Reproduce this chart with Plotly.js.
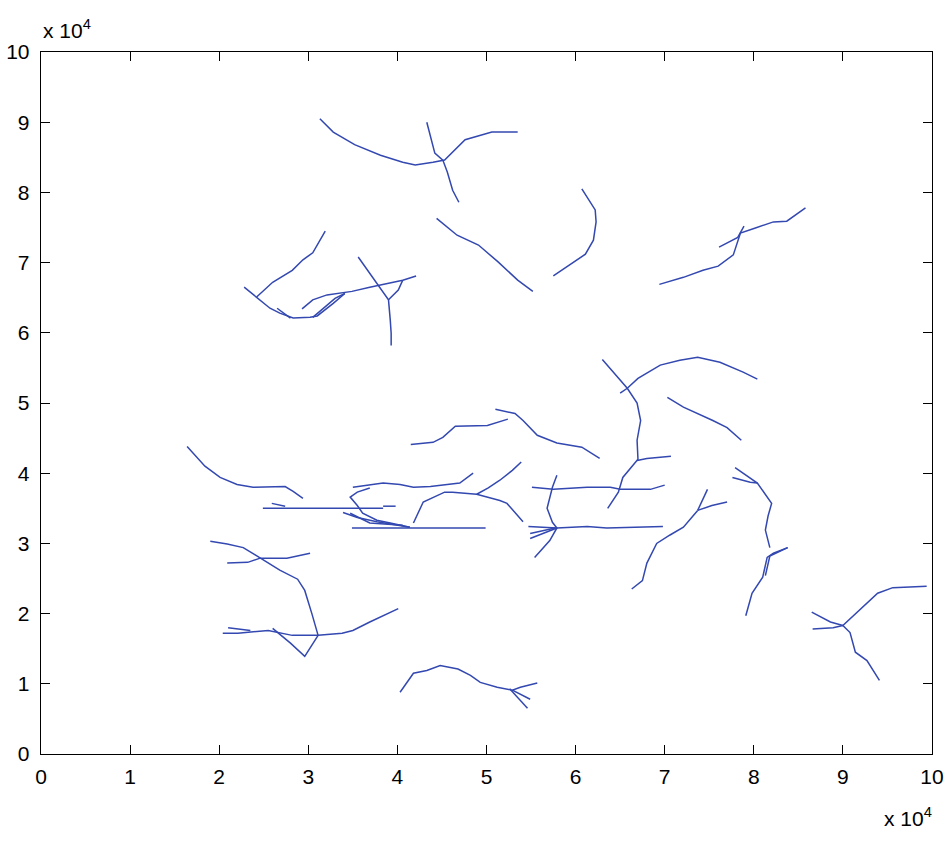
<!DOCTYPE html>
<html>
<head>
<meta charset="utf-8">
<script src="https://cdn.plot.ly/plotly-3.0.1.min.js"></script>
<style>
  html, body { margin: 0; padding: 0; background: #fff; }
  #plot { width: 950px; height: 842px; }
</style>
</head>
<body>
<div id="plot"></div>
<script>
// all coordinates in units of 1e4
const topArcX = [3.13, 3.28, 3.52, 3.81, 4.06, 4.20, 4.40, 4.53, 4.76, 5.06, 5.35];
const topArcY = [9.05, 8.86, 8.68, 8.53, 8.43, 8.39, 8.43, 8.46, 8.75, 8.86, 8.86];
const topCrossX = [4.33, 4.42, 4.51, 4.56, 4.62, 4.69];
const topCrossY = [9.00, 8.56, 8.46, 8.29, 8.03, 7.86];
const diagX = [4.44, 4.67, 4.91, 5.13, 5.35, 5.52];
const diagY = [7.63, 7.39, 7.25, 7.01, 6.75, 6.59];
const hookX = [6.07, 6.22, 6.23, 6.20, 6.11, 5.96, 5.75];
const hookY = [8.05, 7.75, 7.58, 7.32, 7.12, 6.99, 6.81];
const rightUpX = [6.94, 7.21, 7.43, 7.60, 7.77, 7.81, 7.85, 8.01, 8.22, 8.37, 8.58];
const rightUpY = [6.69, 6.79, 6.89, 6.95, 7.11, 7.28, 7.42, 7.49, 7.58, 7.59, 7.78];
const rightUp2X = [7.61, 7.82, 7.89];
const rightUp2Y = [7.22, 7.36, 7.52];

const leafAX = [2.28, 2.44, 2.57, 2.68, 2.83, 3.02, 3.10, 3.28, 3.41];
const leafAY = [6.65, 6.49, 6.35, 6.28, 6.21, 6.22, 6.24, 6.42, 6.56];
const leafBX = [2.42, 2.60, 2.82, 2.94, 3.05, 3.13, 3.19];
const leafBY = [6.51, 6.72, 6.89, 7.04, 7.14, 7.32, 7.45];
const leafCX = [2.93, 3.05, 3.21, 3.49, 3.69, 3.81, 4.06, 4.21];
const leafCY = [6.34, 6.47, 6.54, 6.59, 6.65, 6.68, 6.75, 6.81];
const leafDX = [2.65, 2.80];
const leafDY = [6.35, 6.21];
const leafEX = [3.05, 3.30, 3.41];
const leafEY = [6.22, 6.49, 6.56];
const leafFX = [3.56, 3.69, 3.78, 3.90, 3.92, 3.93, 3.93];
const leafFY = [7.08, 6.85, 6.68, 6.47, 6.18, 5.99, 5.82];
const leafGX = [3.90, 4.01, 4.06];
const leafGY = [6.47, 6.61, 6.75];

const midLeftX = [1.64, 1.73, 1.84, 2.01, 2.20, 2.38, 2.57, 2.74, 2.83, 2.94];
const midLeftY = [4.38, 4.26, 4.10, 3.94, 3.84, 3.80, 3.81, 3.81, 3.74, 3.64];
const flat1X = [2.49, 3.84];
const flat1Y = [3.50, 3.50];
const flat2X = [3.84, 3.98];
const flat2Y = [3.53, 3.53];
const flat3X = [2.59, 2.74];
const flat3Y = [3.57, 3.53];
const flat4X = [3.49, 4.99];
const flat4Y = [3.22, 3.22];
const waveX = [3.50, 3.84, 4.03, 4.18, 4.37, 4.70, 4.85];
const waveY = [3.80, 3.86, 3.84, 3.80, 3.81, 3.86, 4.00];
const loopAX = [3.69, 3.55, 3.47, 3.55, 3.61, 3.77, 3.92, 4.14];
const loopAY = [3.79, 3.73, 3.66, 3.54, 3.43, 3.33, 3.29, 3.23];
const loopBX = [3.39, 3.55, 3.77, 4.14];
const loopBY = [3.44, 3.37, 3.31, 3.23];
const loopCX = [3.47, 3.69, 4.06];
const loopCY = [3.43, 3.29, 3.26];
const humpX = [4.18, 4.29, 4.53, 4.62, 4.89, 5.15, 5.23, 5.32, 5.41];
const humpY = [3.29, 3.59, 3.73, 3.73, 3.70, 3.61, 3.57, 3.44, 3.31];
const humpBX = [4.89, 5.02, 5.15, 5.29, 5.39];
const humpBY = [3.70, 3.79, 3.90, 4.04, 4.16];
const midRiseX = [4.15, 4.40, 4.51, 4.65, 5.01, 5.24];
const midRiseY = [4.41, 4.44, 4.51, 4.67, 4.68, 4.77];
const midFallX = [5.10, 5.32, 5.41, 5.57, 5.79, 6.07, 6.27];
const midFallY = [4.91, 4.85, 4.75, 4.54, 4.43, 4.37, 4.21];

const trunkX = [6.30, 6.50, 6.58, 6.69, 6.73, 6.69, 6.70, 6.53, 6.48, 6.36];
const trunkY = [5.62, 5.33, 5.21, 5.00, 4.75, 4.47, 4.20, 3.94, 3.73, 3.50];
const domeX = [6.50, 6.58, 6.70, 6.95, 7.17, 7.37, 7.62, 7.88, 8.04];
const domeY = [5.14, 5.21, 5.35, 5.54, 5.61, 5.65, 5.58, 5.44, 5.34];
const twigX = [6.69, 6.80, 7.07];
const twigY = [4.18, 4.21, 4.24];
const slopeX = [7.03, 7.21, 7.54, 7.70, 7.86];
const slopeY = [5.08, 4.94, 4.75, 4.65, 4.47];
const flat5X = [5.51, 5.75, 6.13, 6.39, 6.50, 6.84, 7.00];
const flat5Y = [3.80, 3.77, 3.80, 3.80, 3.77, 3.77, 3.83];
const stemX = [5.79, 5.74, 5.68, 5.74, 5.79, 5.71, 5.54];
const stemY = [3.97, 3.80, 3.50, 3.30, 3.22, 3.04, 2.80];
const flat6X = [5.47, 5.79, 6.13, 6.35, 6.98];
const flat6Y = [3.24, 3.22, 3.24, 3.22, 3.24];
const fan1X = [5.49, 5.79];
const fan1Y = [3.07, 3.22];
const fan2X = [5.49, 5.77];
const fan2Y = [3.14, 3.22];
const forkX = [6.63, 6.75, 6.80, 6.91, 7.06, 7.21, 7.37];
const forkY = [2.35, 2.47, 2.72, 3.00, 3.12, 3.23, 3.47];
const forkBX = [7.37, 7.48];
const forkBY = [3.47, 3.77];
const forkCX = [7.37, 7.53, 7.70];
const forkCY = [3.47, 3.54, 3.59];

const rightSAX = [7.79, 8.04, 8.20, 8.16, 8.13, 8.18];
const rightSAY = [4.08, 3.86, 3.57, 3.39, 3.19, 2.94];
const rightSBX = [7.76, 7.96, 8.04];
const rightSBY = [3.94, 3.87, 3.86];
const rightSCX = [8.38, 8.22, 8.15, 8.10, 7.98, 7.91];
const rightSCY = [2.94, 2.86, 2.80, 2.52, 2.29, 1.97];
const rightSDX = [8.38, 8.18, 8.13];
const rightSDY = [2.94, 2.82, 2.54];
const farRightX = [9.94, 9.56, 9.39, 9.16, 9.00, 9.08, 9.14, 9.27, 9.41];
const farRightY = [2.39, 2.37, 2.29, 2.02, 1.83, 1.73, 1.45, 1.33, 1.05];
const farRightBX = [8.65, 8.86, 9.00];
const farRightBY = [2.02, 1.88, 1.83];
const farRightCX = [8.66, 8.89, 9.00];
const farRightCY = [1.78, 1.80, 1.83];

const lowLeftX = [1.90, 2.09, 2.27, 2.46, 2.68, 2.88, 2.96, 3.04, 3.11];
const lowLeftY = [3.03, 2.99, 2.94, 2.79, 2.62, 2.49, 2.33, 2.00, 1.69];
const lowVX = [3.11, 2.96, 2.80, 2.60];
const lowVY = [1.69, 1.39, 1.58, 1.79];
const lowCrossX = [2.09, 2.32, 2.46, 2.76, 3.02];
const lowCrossY = [2.72, 2.73, 2.79, 2.79, 2.86];
const lowFlatX = [2.04, 2.21, 2.55, 2.82, 3.11, 3.38, 3.50, 3.69, 4.01];
const lowFlatY = [1.72, 1.72, 1.76, 1.69, 1.69, 1.72, 1.76, 1.88, 2.07];
const lowStubX = [2.10, 2.27, 2.35];
const lowStubY = [1.80, 1.78, 1.76];

const bottomX = [4.03, 4.18, 4.33, 4.48, 4.68, 4.82, 4.93, 5.12, 5.29, 5.38, 5.57];
const bottomY = [0.88, 1.15, 1.19, 1.26, 1.21, 1.12, 1.02, 0.95, 0.91, 0.95, 1.01];
const bottomBX = [5.29, 5.49];
const bottomBY = [0.91, 0.78];
const bottomCX = [5.26, 5.46];
const bottomCY = [0.93, 0.65];

const lines = [
  [topArcX, topArcY], [topCrossX, topCrossY], [diagX, diagY], [hookX, hookY],
  [rightUpX, rightUpY], [rightUp2X, rightUp2Y],
  [leafAX, leafAY], [leafBX, leafBY], [leafCX, leafCY], [leafDX, leafDY],
  [leafEX, leafEY], [leafFX, leafFY], [leafGX, leafGY],
  [midLeftX, midLeftY], [flat1X, flat1Y], [flat2X, flat2Y], [flat3X, flat3Y],
  [flat4X, flat4Y], [waveX, waveY], [loopAX, loopAY], [loopBX, loopBY],
  [loopCX, loopCY], [humpX, humpY], [humpBX, humpBY], [midRiseX, midRiseY],
  [midFallX, midFallY],
  [trunkX, trunkY], [domeX, domeY], [twigX, twigY], [slopeX, slopeY],
  [flat5X, flat5Y], [stemX, stemY], [flat6X, flat6Y], [fan1X, fan1Y],
  [fan2X, fan2Y], [forkX, forkY], [forkBX, forkBY], [forkCX, forkCY],
  [rightSAX, rightSAY], [rightSBX, rightSBY], [rightSCX, rightSCY],
  [rightSDX, rightSDY], [farRightX, farRightY], [farRightBX, farRightBY],
  [farRightCX, farRightCY],
  [lowLeftX, lowLeftY], [lowVX, lowVY], [lowCrossX, lowCrossY],
  [lowFlatX, lowFlatY], [lowStubX, lowStubY],
  [bottomX, bottomY], [bottomBX, bottomBY], [bottomCX, bottomCY]
];

const tickVals = [0, 1, 2, 3, 4, 5, 6, 7, 8, 9, 10];
const tickText = ['0', '1', '2', '3', '4', '5', '6', '7', '8', '9', '10'];

const fontFam = 'Liberation Sans, Arial, sans-serif';

const data = lines.map(l => ({
  x: l[0],
  y: l[1],
  type: 'scatter',
  mode: 'lines',
  line: { color: '#3348b0', width: 1.5 },
  hoverinfo: 'skip',
  showlegend: false
}));

const axisBase = {
  tickvals: tickVals,
  ticktext: tickText,
  ticks: 'inside',
  ticklen: 9,
  tickwidth: 1,
  tickcolor: '#000',
  showline: true,
  linecolor: '#000',
  linewidth: 1.3,
  mirror: 'allticks',
  showgrid: false,
  zeroline: false,
  tickfont: { family: fontFam, size: 21, color: '#000' }
};

const layout = {
  width: 950,
  height: 842,
  margin: { l: 41, r: 18, t: 52, b: 88 },
  paper_bgcolor: '#fff',
  plot_bgcolor: '#fff',
  xaxis: Object.assign({}, axisBase, { range: [0, 10], ticklabelstandoff: 3 }),
  yaxis: Object.assign({}, axisBase, { range: [0, 10], ticklabelstandoff: 6 }),
  annotations: [
    {
      text: 'x 10<sup>4</sup>', xref: 'paper', yref: 'paper',
      x: 0, y: 1, xanchor: 'left', yanchor: 'bottom', yshift: 8, showarrow: false,
      font: { family: fontFam, size: 21, color: '#000' }
    },
    {
      text: 'x 10<sup>4</sup>', xref: 'paper', yref: 'paper',
      x: 1, y: 0, xanchor: 'right', yanchor: 'top', yshift: -48, xshift: 2, showarrow: false,
      font: { family: fontFam, size: 21, color: '#000' }
    }
  ]
};

Plotly.newPlot('plot', data, layout, { staticPlot: true });
</script>
</body>
</html>
